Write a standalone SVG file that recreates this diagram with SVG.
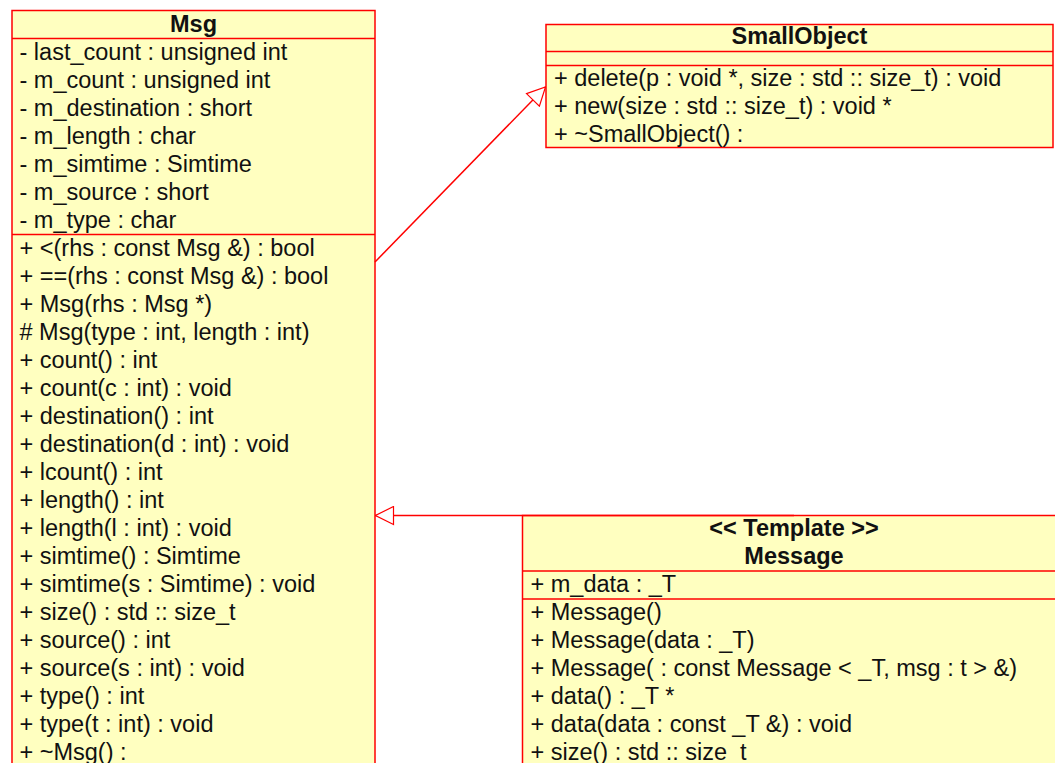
<svg xmlns="http://www.w3.org/2000/svg" width="1055" height="763" viewBox="0 0 1055 763">
  <style>
    .box { fill: #ffffc0; stroke: #ff0000; stroke-width: 1.5; }
    .sep { stroke: #ff0000; stroke-width: 1.5; }
    .txt { font-family: "Liberation Sans", Arial, sans-serif; font-size: 23.5px; fill: #111; }
    .ttl { font-family: "Liberation Sans", Arial, sans-serif; font-size: 23.5px; font-weight: bold; fill: #111; text-anchor: middle; }
    .edge { stroke: #ff0000; stroke-width: 1.5; fill: none; }
  </style>
  <defs>
    <!-- hollow triangle used for generalization ends -->
    <marker id="gen" viewBox="0 0 20 20" refX="19" refY="10" markerWidth="20" markerHeight="20" markerUnits="userSpaceOnUse" orient="auto">
      <path d="M1,1 L19,10 L1,19 Z" fill="#ffffff" stroke="#ff0000" stroke-width="1.2"/>
    </marker>
  </defs>
  <rect width="1055" height="763" fill="#ffffff"/>

  <!-- class Msg -->
  <g id="msg">
    <rect class="box" x="12" y="10.5" width="363" height="800"/>
    <line class="sep" x1="12" y1="38.5" x2="375" y2="38.5"/>
    <line class="sep" x1="12" y1="234.5" x2="375" y2="234.5"/>
    <text class="ttl" x="193.5" y="32">Msg</text>
    <g class="txt">
      <text x="19.5" y="60">- last_count : unsigned int</text>
      <text x="19.5" y="88">- m_count : unsigned int</text>
      <text x="19.5" y="116">- m_destination : short</text>
      <text x="19.5" y="144">- m_length : char</text>
      <text x="19.5" y="172">- m_simtime : Simtime</text>
      <text x="19.5" y="200">- m_source : short</text>
      <text x="19.5" y="228">- m_type : char</text>
      <text x="19.5" y="256">+ &lt;(rhs : const Msg &amp;) : bool</text>
      <text x="19.5" y="284">+ ==(rhs : const Msg &amp;) : bool</text>
      <text x="19.5" y="312">+ Msg(rhs : Msg *)</text>
      <text x="19.5" y="340"># Msg(type : int, length : int)</text>
      <text x="19.5" y="368">+ count() : int</text>
      <text x="19.5" y="396">+ count(c : int) : void</text>
      <text x="19.5" y="424">+ destination() : int</text>
      <text x="19.5" y="452">+ destination(d : int) : void</text>
      <text x="19.5" y="480">+ lcount() : int</text>
      <text x="19.5" y="508">+ length() : int</text>
      <text x="19.5" y="536">+ length(l : int) : void</text>
      <text x="19.5" y="564">+ simtime() : Simtime</text>
      <text x="19.5" y="592">+ simtime(s : Simtime) : void</text>
      <text x="19.5" y="620">+ size() : std :: size_t</text>
      <text x="19.5" y="648">+ source() : int</text>
      <text x="19.5" y="676">+ source(s : int) : void</text>
      <text x="19.5" y="704">+ type() : int</text>
      <text x="19.5" y="732">+ type(t : int) : void</text>
      <text x="19.5" y="760">+ ~Msg() :</text>
    </g>
  </g>

  <!-- class SmallObject -->
  <g id="smallobject">
    <rect class="box" x="546" y="24.5" width="507" height="123"/>
    <line class="sep" x1="546" y1="51.5" x2="1053" y2="51.5"/>
    <line class="sep" x1="546" y1="65.5" x2="1053" y2="65.5"/>
    <text class="ttl" x="799.5" y="44">SmallObject</text>
    <g class="txt">
      <text x="554" y="86">+ delete(p : void *, size : std :: size_t) : void</text>
      <text x="554" y="114">+ new(size : std :: size_t) : void *</text>
      <text x="554" y="141.5">+ ~SmallObject() :</text>
    </g>
  </g>

  <!-- template class Message -->
  <g id="message">
    <rect class="box" x="522.5" y="515.5" width="544" height="300"/>
    <line class="sep" x1="522.5" y1="571" x2="1066" y2="571"/>
    <line class="sep" x1="522.5" y1="599" x2="1066" y2="599"/>
    <text class="ttl" x="794" y="536">&lt;&lt; Template &gt;&gt;</text>
    <text class="ttl" x="794" y="564">Message</text>
    <g class="txt">
      <text x="530.5" y="592">+ m_data : _T</text>
      <text x="530.5" y="620">+ Message()</text>
      <text x="530.5" y="648">+ Message(data : _T)</text>
      <text x="530.5" y="676">+ Message( : const Message &lt; _T, msg : t &gt; &amp;)</text>
      <text x="530.5" y="704">+ data() : _T *</text>
      <text x="530.5" y="732">+ data(data : const _T &amp;) : void</text>
      <text x="530.5" y="760">+ size() : std :: size_t</text>
    </g>
  </g>

  <!-- generalization connectors -->
  <g id="connectors">
    <line class="edge" x1="375" y1="262" x2="545.5" y2="87" marker-end="url(#gen)"/>
    <line class="edge" x1="794" y1="515.5" x2="375.5" y2="515.5" marker-end="url(#gen)"/>
  </g>
</svg>
